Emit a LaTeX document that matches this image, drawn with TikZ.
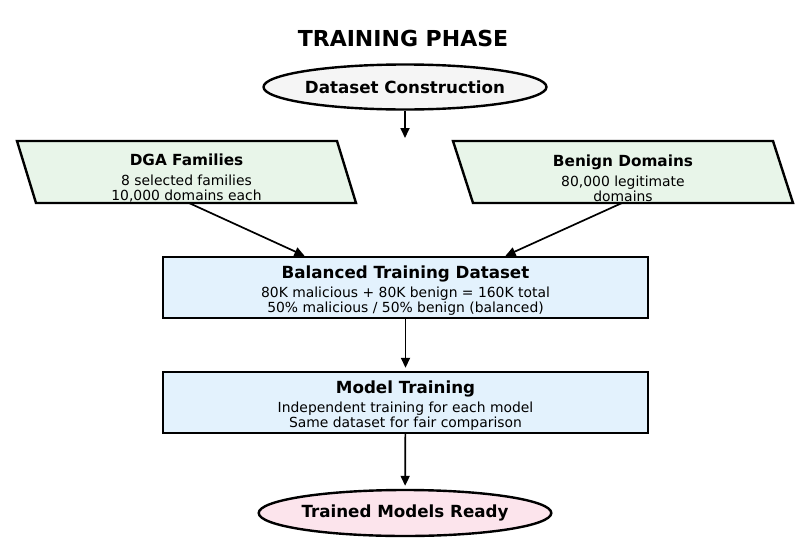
\documentclass[tikz,border=0pt]{standalone}
\usepackage{fontspec}
\setmainfont{DejaVu Sans}
\usetikzlibrary{shapes.geometric,arrows.meta,positioning}

\definecolor{grayfill}{HTML}{F5F5F5}
\definecolor{greenfill}{HTML}{E8F5E9}
\definecolor{bluefill}{HTML}{E3F2FD}
\definecolor{pinkfill}{HTML}{FCE4EC}

\newcommand{\boxhead}[1]{{\bfseries\fontsize{16.7}{19}\selectfont #1}}
\newcommand{\datahead}[1]{{\bfseries\fontsize{15.3}{18}\selectfont #1}}

\tikzset{
  terminal/.style={ellipse, draw, line width=2.4pt, inner sep=0pt,
    font=\bfseries\fontsize{16.7}{19}\selectfont},
  datashape/.style={draw, line width=2.4pt, fill=greenfill, line join=miter},
  procblk/.style={rectangle, draw, line width=2.4pt, fill=bluefill,
    minimum width=485pt, minimum height=61pt, inner sep=0pt},
  datatext/.style={align=center, inner sep=0pt, yshift=-6pt,
    font=\fontsize{13.9}{15}\selectfont},
  proctext/.style={align=center, inner sep=0pt, yshift=-3pt,
    font=\fontsize{13.9}{15}\selectfont},
  arr/.style={-{Triangle[length=10pt,width=9pt]}, line width=1.7pt},
}

\begin{document}
\begin{tikzpicture}[x=1pt,y=-1pt]
  \useasboundingbox (0,0) rectangle (803,549);

  \node[font=\bfseries\fontsize{22}{26}\selectfont] (title) at (403,38) {TRAINING PHASE};

  % start and end
  \node[terminal, fill=grayfill, minimum width=242pt, minimum height=45pt] (construct) at (405,87) {Dataset Construction};
  \node[terminal, fill=pinkfill, minimum width=291pt, minimum height=46pt] (ready) at (405,513) {Trained Models Ready};

  % data sources (parallelograms)
  \coordinate (dga) at (186.5,172);
  \coordinate (benign) at (623,172);
  \draw[datashape] (dga) ++(-169.5,-31) -- ++(320,0) -- ++(19,62) -- ++(-320,0) -- cycle;
  \draw[datashape] (benign) ++(-170,-31) -- ++(320,0) -- ++(20,62) -- ++(-320,0) -- cycle;
  \node[datatext] (dgatext) at (dga) {\datahead{DGA Families}\\[5pt]8 selected families\\10,000 domains each};
  \node[datatext] (benigntext) at (benign) {\datahead{Benign Domains}\\[5pt]80,000 legitimate\\domains};
  \coordinate (dgafoot) at ([shift={(2.5pt,-31pt)}]dga);
  \coordinate (benignfoot) at ([shift={(-1pt,-31pt)}]benign);

  % processing
  \node[procblk] (balanced) at (405.5,287.5) {};
  \node[procblk] (training) at (405.5,402.5) {};
  \node[proctext] (balancedtext) at (balanced) {\boxhead{Balanced Training Dataset}\\[4pt]80K malicious + 80K benign = 160K total\\50\% malicious / 50\% benign (balanced)};
  \node[proctext] (trainingtext) at (training) {\boxhead{Model Training}\\[4pt]Independent training for each model\\Same dataset for fair comparison};

  \coordinate (split) at (405,138);

  \draw[arr] (construct) -- (split);
  \draw[arr] (dgafoot) -- ([xshift=-101pt]balanced.north);
  \draw[arr] (benignfoot) -- ([xshift=100pt]balanced.north);
  \draw[arr, shorten >=3pt] (balanced) -- (training);
  \draw[arr, shorten >=3pt] (training) -- (ready);

\end{tikzpicture}
\end{document}
